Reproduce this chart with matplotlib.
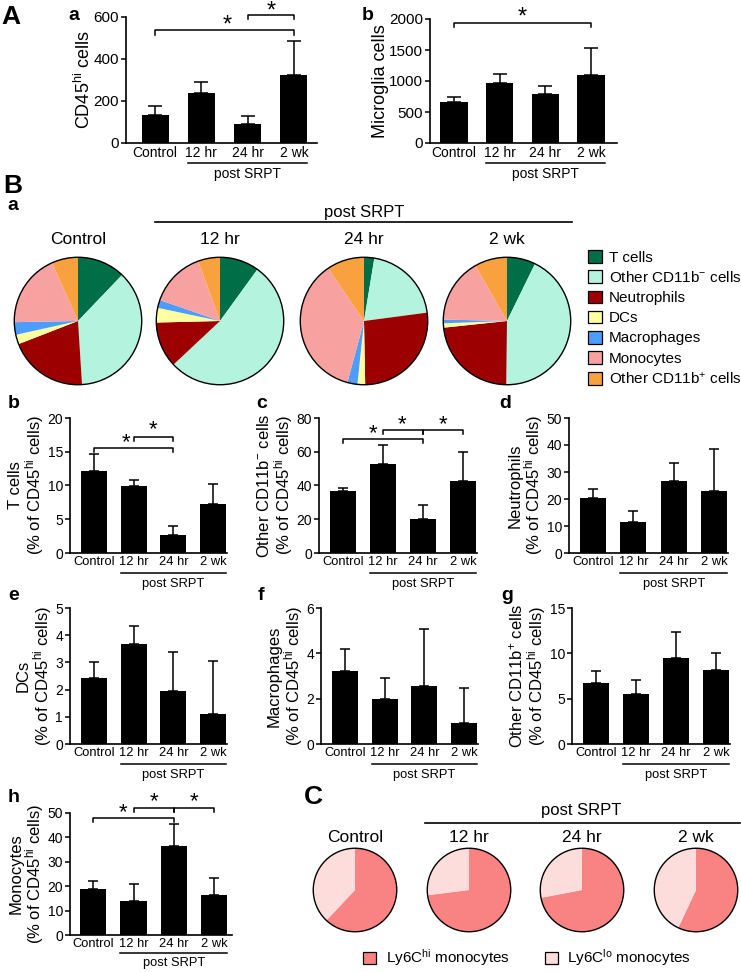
import numpy as np
import matplotlib
matplotlib.use("Agg")
import matplotlib.pyplot as plt
from matplotlib.patches import Patch, Circle

plt.rcParams['font.family'] = ['Liberation Sans', 'DejaVu Sans']
plt.rcParams['mathtext.default'] = 'regular'

# ---- data ----
groups = ['Control', '12 hr', '24 hr', '2 wk']

# panel A (cell counts)
cd45_mean = [135, 237, 92, 322]
cd45_err = [40, 52, 38, 165]
microglia_mean = [655, 960, 790, 1100]
microglia_err = [90, 155, 130, 440]

# panel B (% of CD45hi cells)
tcell_mean = [12.2, 9.9, 2.6, 7.2]
tcell_err = [2.4, 0.9, 1.4, 3.0]
cd11bneg_mean = [37.0, 52.6, 20.3, 42.7]
cd11bneg_err = [1.8, 11.6, 8.1, 17.3]
neut_mean = [20.2, 11.5, 26.8, 23.0]
neut_err = [3.4, 4.1, 6.5, 15.6]
dc_mean = [2.42, 3.68, 1.95, 1.1]
dc_err = [0.58, 0.66, 1.43, 1.95]
macro_mean = [3.2, 2.0, 2.55, 0.92]
macro_err = [0.98, 0.9, 2.52, 1.55]
cd11bpos_mean = [6.7, 5.5, 9.5, 8.2]
cd11bpos_err = [1.3, 1.6, 2.9, 1.8]
mono_mean = [18.7, 14.0, 36.3, 16.3]
mono_err = [3.3, 7.0, 9.2, 7.0]

subsets = ['T cells', 'Other CD11b$^{-}$ cells', 'Neutrophils', 'DCs',
           'Macrophages', 'Monocytes', 'Other CD11b$^{+}$ cells']
subset_colors = ['#006e47', '#b4f4de', '#9c0000', '#ffff9f',
                 '#4d9dff', '#f8a1a1', '#f9a13f']

# panel C (% Ly6C hi of monocytes)
ly6c_hi = [62, 73, 72, 57]
ly6c_labels = ['Ly6C$^{hi}$ monocytes', 'Ly6C$^{lo}$ monocytes']
ly6c_colors = ['#f98383', '#fddcdc']

W, H = 741, 972
fig = plt.figure(figsize=(W / 100, H / 100), dpi=100)


def px_axes(x0, y0, x1, y1):
    return fig.add_axes([x0 / W, 1 - y1 / H, (x1 - x0) / W, (y1 - y0) / H])


def ftext(x, y, s, **kw):
    fig.text(x / W, 1 - y / H, s, **kw)


def bar_panel(box, means, errs, ylim, yticks, ylabel, xlim, width,
              brackets, stars, fs_tick=10, fs_lab=12, fs_cat=9.3, cap=3.5,
              under=20, under_text=31, star_fs=16, labelpad=1):
    ax = px_axes(*box)
    h_px = box[3] - box[1]
    x = np.arange(len(groups))
    ax.bar(x, means, width=width, color='black', zorder=3)
    ax.errorbar(x, means, yerr=[np.zeros(len(errs)), errs], fmt='none',
                ecolor='black', elinewidth=1.1, capsize=cap, capthick=1.1, zorder=2)
    ax.set_xlim(*xlim)
    ax.set_ylim(*ylim)
    ax.set_yticks(yticks)
    ax.set_xticks(x)
    ax.set_xticklabels(groups, fontsize=fs_cat)
    ax.tick_params(axis='x', length=0, pad=2)
    ax.tick_params(axis='y', length=3.5, width=1.1, labelsize=fs_tick, pad=1.5)
    for s in ['top', 'right']:
        ax.spines[s].set_visible(False)
    for s in ['left', 'bottom']:
        ax.spines[s].set_linewidth(1.2)
    ax.set_ylabel(ylabel, fontsize=fs_lab, labelpad=labelpad, linespacing=1.0)
    # underline "post SRPT"
    tr = ax.get_xaxis_transform()
    ax.plot([1 - width / 2, 3 + width / 2], [-under / h_px] * 2, color='black',
            lw=1.1, transform=tr, clip_on=False)
    ax.text(2, -under_text / h_px, 'post SRPT', transform=tr, ha='center',
            va='center', fontsize=fs_cat)
    # significance brackets
    for (i, j, y, d) in brackets:
        ax.plot([i, i, j, j], [y - d, y, y, y - d], color='black', lw=1.1,
                clip_on=False)
    for (sx, sy) in stars:
        ax.text(sx, sy, '*', ha='center', va='center', fontsize=star_fs)
    return ax


# ---------------- panel A ----------------
ftext(1, 17, 'A', fontsize=19, fontweight='bold', va='center')
ftext(68, 16, 'a', fontsize=14, fontweight='bold', va='center')
ftext(362, 16, 'b', fontsize=14, fontweight='bold', va='center')

bar_panel((126, 17, 317, 143), cd45_mean, cd45_err, (0, 600), [0, 200, 400, 600],
          'CD45$^{hi}$ cells', (-0.63, 3.5), 0.58,
          brackets=[(0, 3, 538, 24), (2, 3, 610, 20)],
          stars=[(1.55, 560), (2.5, 628)],
          fs_tick=11, fs_lab=13, fs_cat=10, cap=5, star_fs=17, labelpad=0)

bar_panel((430, 19, 617, 143), microglia_mean, microglia_err, (0, 2000),
          [0, 500, 1000, 1500, 2000], 'Microglia cells', (-0.53, 3.57), 0.6,
          brackets=[(0, 3, 1935, 65)],
          stars=[(1.5, 2030)],
          fs_tick=11, fs_lab=13, fs_cat=10, cap=5, star_fs=17, labelpad=0)

# ---------------- panel B a : pies ----------------
ftext(3, 186, 'B', fontsize=19, fontweight='bold', va='center')
ftext(7, 206, 'a', fontsize=14, fontweight='bold', va='center')
ftext(364, 212, 'post SRPT', fontsize=12, ha='center', va='center')
fig.add_artist(plt.Line2D([155 / W, 572 / W], [1 - 222 / H] * 2, color='black', lw=1.2))

pie_data = np.array([tcell_mean, cd11bneg_mean, neut_mean, dc_mean,
                     macro_mean, mono_mean, cd11bpos_mean])
pie_cx = [78, 220, 364, 507]
for k, cx in enumerate(pie_cx):
    ax = px_axes(cx - 65, 256, cx + 65, 386)
    ax.pie(pie_data[:, k], colors=subset_colors, startangle=90,
           counterclock=False, radius=1, wedgeprops={'linewidth': 0})
    ax.add_patch(Circle((0, 0), 1, fill=False, edgecolor='black', lw=1.0))
    ax.set_xlim(-1.02, 1.02)
    ax.set_ylim(-1.02, 1.02)
    ax.set_aspect('auto')
    ftext(cx, 240, groups[k], fontsize=12.5, ha='center', va='center')

handles = [Patch(facecolor=c, edgecolor='black', lw=0.9) for c in subset_colors]
fig.legend(handles, subsets, loc='upper left', bbox_to_anchor=(588 / W, 1 - 250 / H),
           frameon=False, fontsize=11, handlelength=0.9, handleheight=0.9,
           handletextpad=0.45, labelspacing=0.36, borderpad=0, borderaxespad=0)

# ---------------- panel B b-h : bars ----------------
pct = '(% of CD45$^{hi}$ cells)'
xl = (-0.6, 3.35)
wd = 0.65
for lab, x in [('b', 8), ('c', 256), ('d', 499)]:
    ftext(x, 403, lab, fontsize=14, fontweight='bold', va='center')
for lab, x in [('e', 8), ('f', 258), ('g', 501)]:
    ftext(x, 595, lab, fontsize=14, fontweight='bold', va='center')
ftext(8, 797, 'h', fontsize=14, fontweight='bold', va='center')

bar_panel((70, 418, 227, 553), tcell_mean, tcell_err, (0, 20), [0, 5, 10, 15, 20],
          'T cells\n' + pct, xl, wd,
          brackets=[(0, 2, 15.6, 0.6), (1, 2, 17.2, 0.6)],
          stars=[(0.8, 16.3), (1.5, 18.2)])
bar_panel((319, 418, 477, 553), cd11bneg_mean, cd11bneg_err, (0, 80),
          [0, 20, 40, 60, 80], 'Other CD11b$^{-}$ cells\n' + pct, xl, wd,
          brackets=[(0, 2, 67.6, 2.6), (1, 2, 72.9, 2.6), (2, 3, 72.9, 2.6)],
          stars=[(0.75, 70.5), (1.47, 76), (2.5, 76)])
bar_panel((569, 418, 728, 553), neut_mean, neut_err, (0, 50),
          [0, 10, 20, 30, 40, 50], 'Neutrophils\n' + pct, xl, wd,
          brackets=[], stars=[])

bar_panel((70, 608, 227, 744), dc_mean, dc_err, (0, 5), [0, 1, 2, 3, 4, 5],
          'DCs\n' + pct, xl, wd, brackets=[], stars=[])
bar_panel((321, 608, 478, 744), macro_mean, macro_err, (0, 6), [0, 2, 4, 6],
          'Macrophages\n' + pct, xl, wd, brackets=[], stars=[])
bar_panel((572, 608, 730, 744), cd11bpos_mean, cd11bpos_err, (0, 15),
          [0, 5, 10, 15], 'Other CD11b$^{+}$ cells\n' + pct, xl, wd,
          brackets=[], stars=[])

bar_panel((70, 813, 232, 935), mono_mean, mono_err, (0, 50),
          [0, 10, 20, 30, 40, 50], 'Monocytes\n' + pct, (-0.58, 3.45), wd,
          brackets=[(0, 2, 48, 1.7), (1, 2, 52, 1.7), (2, 3, 52, 1.7)],
          stars=[(0.75, 50.3), (1.5, 54.7), (2.5, 54.7)],
          under=18, under_text=28)

# ---------------- panel C ----------------
ftext(304, 797, 'C', fontsize=19, fontweight='bold', va='center')
ftext(581, 810, 'post SRPT', fontsize=12, ha='center', va='center')
fig.add_artist(plt.Line2D([425 / W, 740 / W], [1 - 823 / H] * 2, color='black', lw=1.2))
c_cx = [355, 469, 582, 696]
for k, cx in enumerate(c_cx):
    ax = px_axes(cx - 43, 847, cx + 43, 933)
    ax.pie([ly6c_hi[k], 100 - ly6c_hi[k]], colors=ly6c_colors, startangle=90,
           counterclock=False, radius=1, wedgeprops={'linewidth': 0})
    ax.add_patch(Circle((0, 0), 1, fill=False, edgecolor='black', lw=1.0))
    ax.set_xlim(-1.03, 1.03)
    ax.set_ylim(-1.03, 1.03)
    ax.set_aspect('auto')
    ftext(cx, 837, groups[k], fontsize=12.5, ha='center', va='center')

handles_c = [Patch(facecolor=c, edgecolor='black', lw=0.9) for c in ly6c_colors]
fig.legend(handles_c, ly6c_labels, loc='center', bbox_to_anchor=(527 / W, 1 - 958 / H),
           ncol=2, frameon=False, fontsize=11, handlelength=0.9, handleheight=0.9,
           handletextpad=0.6, columnspacing=2.3, borderpad=0, borderaxespad=0)

fig.savefig('out.png', dpi=100)
